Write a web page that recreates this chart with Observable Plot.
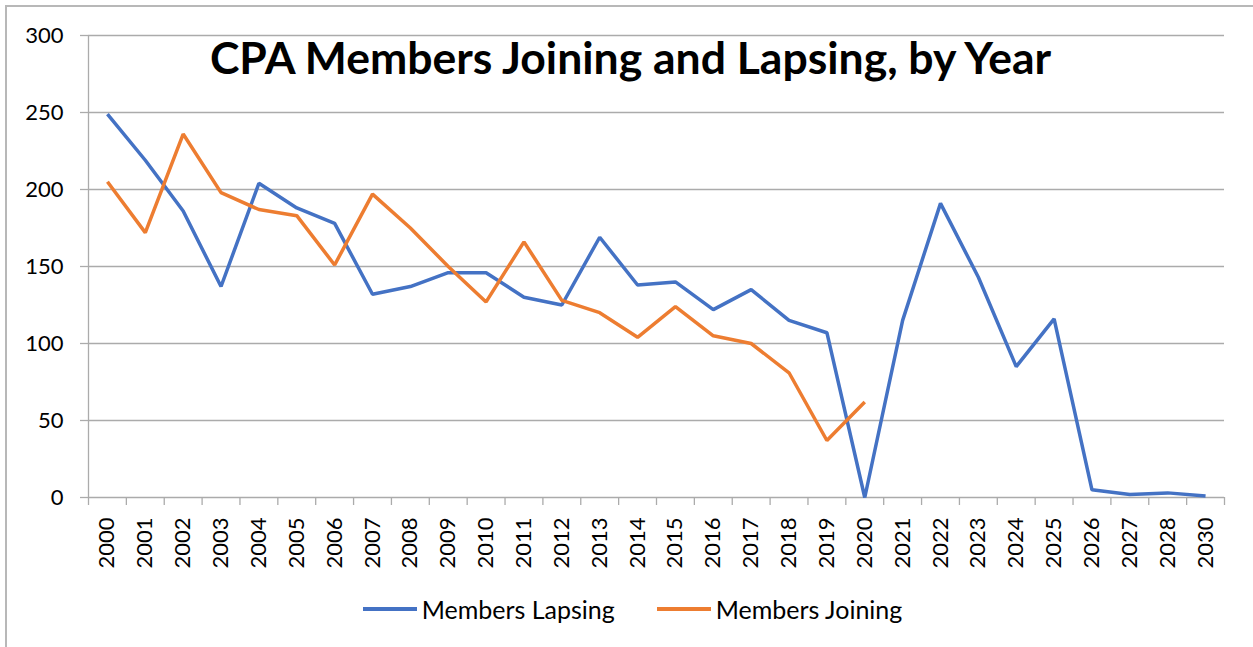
<!DOCTYPE html>
<html>
<head>
<meta charset="utf-8">
<script src="https://cdn.jsdelivr.net/npm/d3@7"></script>
<script src="https://cdn.jsdelivr.net/npm/@observablehq/plot@0.6"></script>
<style>
  body { margin: 0; background: #fff; }
  #wrap { position: relative; width: 1253px; height: 647px; overflow: hidden; font-family: Lato, "Open Sans", sans-serif; color: #000; }
  #border { position: absolute; left: 5px; top: 5px; width: 1260px; height: 660px; border-top: 2px solid #b8b8b8; border-left: 2px solid #b8b8b8; pointer-events: none; }
  #chart { position: absolute; left: 0; top: 0; }
  #title { position: absolute; left: 4px; top: 28px; width: 1253px; text-align: center; font-weight: bold; font-size: 44.5px; line-height: 58px; pointer-events: none; }
  #legend { position: absolute; left: 0; top: 593px; width: 1265px; display: flex; justify-content: center; align-items: center; font-size: 25px; line-height: 32px; }
  .item { display: flex; align-items: center; }
  .sw { width: 54px; height: 3.5px; margin-right: 5px; }
  .gap { width: 42px; }
</style>
</head>
<body>
<div id="wrap">
  <div id="chart"></div>
  <div id="title"></div>
  <div id="legend"></div>
  <div id="border"></div>
</div>
<script>
const titleText = "CPA Members Joining and Lapsing, by Year";
const years = ["2000","2001","2002","2003","2004","2005","2006","2007","2008","2009",
               "2010","2011","2012","2013","2014","2015","2016","2017","2018","2019",
               "2020","2021","2022","2023","2024","2025","2026","2027","2028","2030"];
const seriesNames = ["Members Lapsing", "Members Joining"];
const seriesColors = ["#4472C4", "#ED7D31"];
const lapsing = [249,219,186,137,204,188,178,132,137,146,146,130,125,169,138,140,122,135,115,107,0,115,191,143,85,116,5,2,3,1];
const joining = [205,172,236,198,187,183,151,197,175,150,127,166,128,120,104,124,105,100,81,37,62];
const yTicks = [0,50,100,150,200,250,300];

const data = [
  ...lapsing.map((v, i) => ({year: years[i], series: seriesNames[0], value: v})),
  ...joining.map((v, i) => ({year: years[i], series: seriesNames[1], value: v}))
];

const W = 1253, H = 580, mL = 88, mR = 29, mT = 35, mB = 83;
const step = (W - mL - mR) / years.length;
const gray = "#ababab";
const noText = () => "";

const chart = Plot.plot({
  width: W, height: H,
  marginLeft: mL, marginRight: mR, marginTop: mT, marginBottom: mB,
  style: {fontFamily: "Lato, 'Open Sans', sans-serif", fontSize: "22px", color: "#000", background: "transparent", overflow: "visible"},
  x: {type: "point", domain: years, padding: 0.5, round: false},
  y: {domain: [0, 300]},
  color: {domain: seriesNames, range: seriesColors},
  marks: [
    Plot.gridY(yTicks, {stroke: gray, strokeOpacity: 1, strokeWidth: 1.3}),
    Plot.ruleX([years[0]], {dx: -step / 2, stroke: gray, strokeWidth: 1.3}),
    Plot.axisY({ticks: yTicks, tickSize: 8, tickPadding: 17, stroke: gray, strokeWidth: 1.3, label: null, fontSize: 22}),
    Plot.axisX({ticks: years, tickSize: 8, dx: -step / 2, tickFormat: noText, stroke: gray, strokeWidth: 1.3, label: null}),
    Plot.axisX({ticks: [years[years.length - 1]], tickSize: 8, dx: step / 2, tickFormat: noText, stroke: gray, strokeWidth: 1.3, label: null}),
    Plot.axisX({ticks: years, tickSize: 0, tickPadding: 20, tickRotate: -90, label: null, fontSize: 22}),
    Plot.lineY(data, {x: "year", y: "value", z: "series", stroke: "series", strokeWidth: 3.5, strokeLinejoin: "miter", strokeLinecap: "butt"})
  ]
});
document.getElementById("chart").appendChild(chart);
document.getElementById("title").textContent = titleText;

const legend = document.getElementById("legend");
seriesNames.forEach((name, i) => {
  if (i > 0) { const g = document.createElement("div"); g.className = "gap"; legend.appendChild(g); }
  const item = document.createElement("div"); item.className = "item";
  const sw = document.createElement("div"); sw.className = "sw"; sw.style.background = seriesColors[i];
  const label = document.createElement("span"); label.textContent = name;
  item.appendChild(sw); item.appendChild(label);
  legend.appendChild(item);
});
</script>
</body>
</html>
